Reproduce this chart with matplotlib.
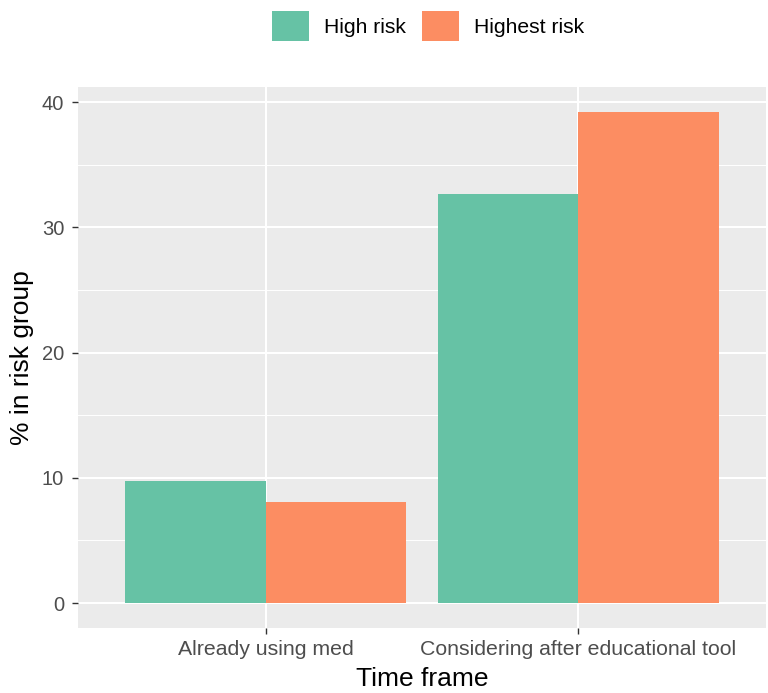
import numpy as np
import matplotlib.pyplot as plt
from matplotlib.ticker import MultipleLocator

# ── Data ──────────────────────────────────────────────────────────────────────
time_frames = ["Already using med", "Considering after educational tool"]
groups = ["High risk", "Highest risk"]
high_risk = [9.76, 32.7]
highest_risk = [8.1, 39.25]

COLORS = {"High risk": "#66C2A5", "Highest risk": "#FC8D62"}
plt.rcParams["font.family"] = ["Liberation Sans", "DejaVu Sans"]

fig = plt.figure(figsize=(7.68, 6.93), dpi=100)
ax = fig.add_axes([0.1016, 0.0944, 0.8958, 0.7801])
ax.set_facecolor("#EBEBEB")

x = np.arange(1, len(time_frames) + 1)
w = 0.45
b1 = ax.bar(x - w / 2, high_risk, width=w, color=COLORS["High risk"], label=groups[0], zorder=3)
b2 = ax.bar(x + w / 2, highest_risk, width=w, color=COLORS["Highest risk"], label=groups[1], zorder=3)

ymax = max(max(high_risk), max(highest_risk))
ax.set_ylim(-0.05 * ymax, 1.05 * ymax)
ax.set_xlim(0.4, len(time_frames) + 0.6)

ax.set_xticks(x)
ax.set_xticklabels(time_frames)
ax.yaxis.set_major_locator(MultipleLocator(10))
ax.yaxis.set_minor_locator(MultipleLocator(5))
ax.grid(True, which="major", color="white", lw=1.5, zorder=1)
ax.grid(True, which="minor", axis="y", color="white", lw=0.7, zorder=1)
ax.tick_params(which="minor", length=0)
ax.tick_params(which="major", length=4, width=1, color="#333333",
               labelcolor="#4D4D4D")
ax.tick_params(axis="x", labelsize=15.3, pad=5)
ax.tick_params(axis="y", labelsize=14.5, pad=6)
for s in ax.spines.values():
    s.set_visible(False)

ax.set_xlabel("Time frame", fontsize=19, labelpad=6)
ax.set_ylabel("% in risk group", fontsize=19)
ax.yaxis.set_label_coords(-0.064, 0.5)

fig.legend(handles=[b1, b2], loc="center", bbox_to_anchor=(0.557, 0.9625), ncol=2,
           frameon=False, fontsize=15.2, handlelength=1.76, handleheight=1.76,
           handletextpad=0.7, columnspacing=0.75, borderpad=0)

fig.savefig("out.png", dpi=100)
